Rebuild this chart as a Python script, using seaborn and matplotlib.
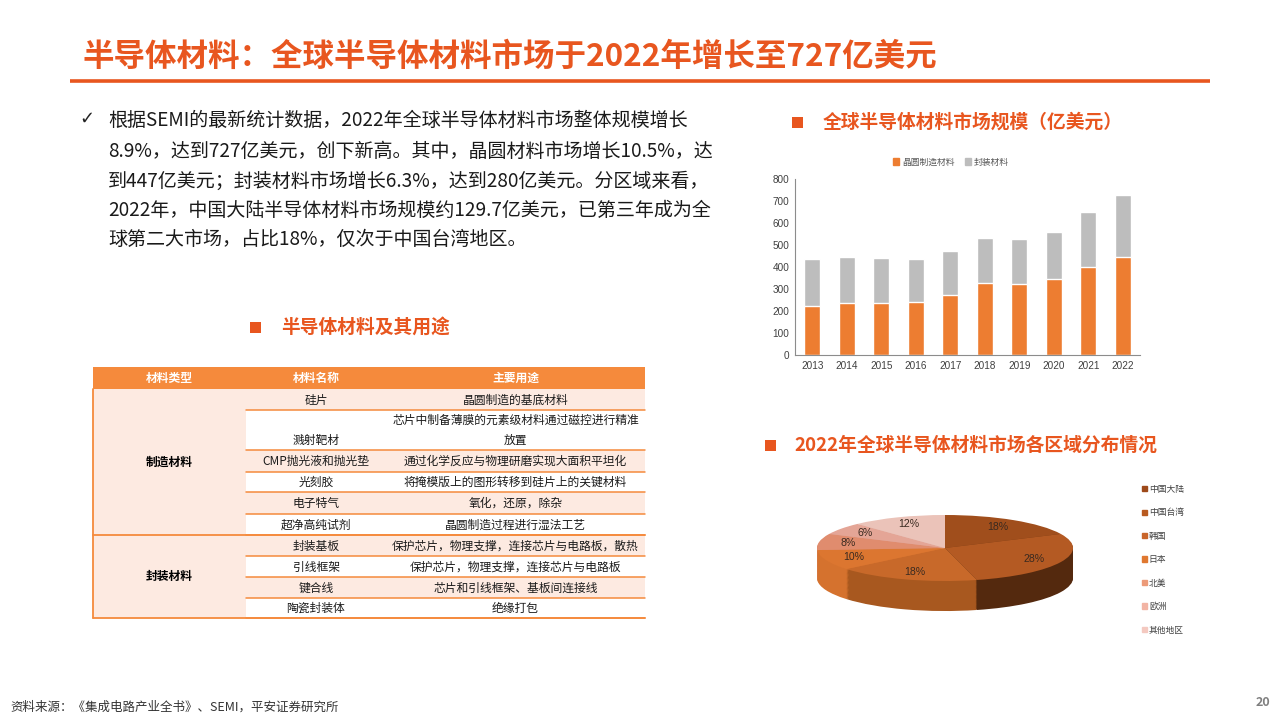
import matplotlib
matplotlib.use('Agg')
import matplotlib.pyplot as plt
import seaborn as sns
import numpy as np
import pandas as pd
from matplotlib.patches import Rectangle

sns.set_theme(style='white')
plt.rcParams['font.family'] = ['Noto Sans CJK SC', 'DejaVu Sans']
plt.rcParams['axes.unicode_minus'] = False

# ---------------- data ----------------
title = "半导体材料：全球半导体材料市场于2022年增长至727亿美元"
bullet_lines = [
    "根据SEMI的最新统计数据，2022年全球半导体材料市场整体规模增长",
    "8.9%，达到727亿美元，创下新高。其中，晶圆材料市场增长10.5%，达",
    "到447亿美元；封装材料市场增长6.3%，达到280亿美元。分区域来看，",
    "2022年，中国大陆半导体材料市场规模约129.7亿美元，已第三年成为全",
    "球第二大市场，占比18%，仅次于中国台湾地区。",
]
bar_heading = "全球半导体材料市场规模（亿美元）"
table_heading = "半导体材料及其用途"
pie_heading = "2022年全球半导体材料市场各区域分布情况"
footer = "资料来源：《集成电路产业全书》、SEMI，平安证券研究所"
page_no = "20"

years = ['2013', '2014', '2015', '2016', '2017', '2018', '2019', '2020', '2021', '2022']
wafer = [224, 236, 236, 241, 274, 326, 323, 345, 400, 447]
package = [212, 211, 203, 195, 200, 207, 204, 214, 250, 280]
series_names = ['晶圆制造材料', '封装材料']
y_ticks = [0, 100, 200, 300, 400, 500, 600, 700, 800]

regions = ['中国大陆', '中国台湾', '韩国', '日本', '北美', '欧洲', '其他地区']
shares = [18, 28, 18, 10, 8, 6, 12]

table_header = ['材料类型', '材料名称', '主要用途']
material_types = ['制造材料', '封装材料']
type_row_counts = [6, 4]
material_names = ['硅片', '溅射靶材', 'CMP抛光液和抛光垫', '光刻胶', '电子特气', '超净高纯试剂',
                  '封装基板', '引线框架', '键合线', '陶瓷封装体']
material_uses = ['晶圆制造的基底材料',
                 '芯片中制备薄膜的元素级材料通过磁控进行精准\n放置',
                 '通过化学反应与物理研磨实现大面积平坦化',
                 '将掩模版上的图形转移到硅片上的关键材料',
                 '氧化，还原，除杂',
                 '晶圆制造过程进行湿法工艺',
                 '保护芯片，物理支撑，连接芯片与电路板，散热',
                 '保护芯片，物理支撑，连接芯片与电路板',
                 '芯片和引线框架、基板间连接线',
                 '绝缘打包']

# ---------------- style ----------------
W, H = 1280, 720
ACCENT = '#E8561F'
TBL_OR = '#F58A3C'
PEACH = '#FDEAE1'
C_WAFER = '#ED7D31'
C_PACK = '#BDBDBD'
top_colors = ['#A04E1C', '#B45A23', '#C8692A', '#DC7630', '#E08C6E', '#E4A596', '#EBC3B9']
side_colors = ['#6E3511', '#54290E', '#A8581F', '#D5722E', '#D88560', '#DC9E8C', '#E2B8AC']
legend_colors = ['#9E4A1A', '#B85A20', '#C9652A', '#E07830', '#EC9A78', '#F2B4A4', '#F4C9C0']

fig = plt.figure(figsize=(12.8, 7.2), dpi=100, facecolor='white')

# overlay axes in pixel coordinates
ov = fig.add_axes([0, 0, 1, 1], zorder=0)
ov.set_xlim(0, W)
ov.set_ylim(H, 0)
ov.axis('off')

# title + rule
ov.text(82, 57, title, fontsize=22.7, fontweight='bold', color=ACCENT, ha='left', va='center')
ov.plot([70, 1210], [81, 81], color=ACCENT, lw=2.6, solid_capstyle='butt')

# bullet text
ov.text(87, 119, '✓', fontsize=13, color='#222222', ha='center', va='center', family='DejaVu Sans')
line_y = [120, 151, 181, 210, 239]
for ly, s in zip(line_y, bullet_lines):
    ov.text(108, ly, s, fontsize=13.7, color='#1A1A1A', ha='left', va='center')

# section headings
def heading(xsq, ysq, xtext, s):
    ov.add_patch(Rectangle((xsq, ysq - 5.5), 10.5, 11, color=ACCENT, lw=0))
    ov.text(xtext, ysq, s, fontsize=13.5, fontweight='bold', color=ACCENT, ha='left', va='center')

heading(792, 122, 823, bar_heading)
heading(250, 327, 281, table_heading)
heading(765, 445, 794, pie_heading)

# ---------------- table ----------------
tx0, tx1, tx2, tx3 = 93, 246, 386, 645
hdr_top, hdr_bot = 367, 389
row_edges = [389, 410, 450, 472, 492, 514, 535, 556, 577, 598, 618]
ov.add_patch(Rectangle((tx0, hdr_top), tx3 - tx0, hdr_bot - hdr_top, color=TBL_OR, lw=0))
for xc, s in zip([(tx0 + tx1) / 2, (tx1 + tx2) / 2, (tx2 + tx3) / 2], table_header):
    ov.text(xc, (hdr_top + hdr_bot) / 2 + 0.5, s, fontsize=8.5, fontweight='bold', color='white',
            ha='center', va='center')
for i in range(len(material_names)):
    y0, y1 = row_edges[i], row_edges[i + 1]
    fill = PEACH if i % 2 == 0 else 'white'
    ov.add_patch(Rectangle((tx1, y0), tx3 - tx1, y1 - y0, color=fill, lw=0))
    use_lines = material_uses[i].split('\n')
    if len(use_lines) == 1:
        yc = (y0 + y1) / 2 + 0.5
        ov.text((tx1 + tx2) / 2, yc, material_names[i], fontsize=8.5, color='#1A1A1A', ha='center', va='center')
        ov.text((tx2 + tx3) / 2, yc, use_lines[0], fontsize=8.5, color='#1A1A1A', ha='center', va='center')
    else:
        n = len(use_lines)
        step = (y1 - y0) / n
        for k, s in enumerate(use_lines):
            ov.text((tx2 + tx3) / 2, y0 + step * (k + 0.5) + 0.5, s, fontsize=8.5, color='#1A1A1A',
                    ha='center', va='center')
        ov.text((tx1 + tx2) / 2, y0 + step * (n - 0.5) + 0.5, material_names[i], fontsize=8.5,
                color='#1A1A1A', ha='center', va='center')
    ov.plot([tx1, tx3], [y1, y1], color=TBL_OR, lw=1.1)
start = 0
for t, cnt in zip(material_types, type_row_counts):
    y0, y1 = row_edges[start], row_edges[start + cnt]
    ov.add_patch(Rectangle((tx0, y0), tx1 - tx0, y1 - y0, color=PEACH, lw=0))
    ov.text((tx0 + tx1) / 2, (y0 + y1) / 2, t, fontsize=8.5, fontweight='bold', color='black',
            ha='center', va='center')
    ov.plot([tx0, tx3], [y1, y1], color=TBL_OR, lw=1.3)
    start += cnt
ov.plot([tx0, tx0], [hdr_bot, row_edges[-1]], color=TBL_OR, lw=1.3)

# footer
ov.text(10, 707, footer, fontsize=9, color='#333333', ha='left', va='center')
ov.text(1270, 703, page_no, fontsize=9, color='#7F7F7F', ha='right', va='center', fontweight='bold')

# ---------------- bar chart ----------------
bax = fig.add_axes([795 / W, 1 - 355 / H, 345 / W, 176 / H], zorder=2)
bax.patch.set_alpha(0)
df = pd.DataFrame({'year': years, 'wafer': wafer, 'package': package})
df['total'] = df['wafer'] + df['package']
sns.barplot(data=df, x='year', y='total', color=C_PACK, width=0.47, saturation=1, errorbar=None, ax=bax)
sns.barplot(data=df, x='year', y='wafer', color=C_WAFER, width=0.47, saturation=1, errorbar=None, ax=bax)
bax.set_xlim(-0.5, len(years) - 0.5)
bax.set_ylim(0, 800)
bax.set_yticks(y_ticks)
bax.set_xlabel('')
bax.set_ylabel('')
bax.grid(False)
for side in ['top', 'right']:
    bax.spines[side].set_visible(False)
for side in ['left', 'bottom']:
    bax.spines[side].set_color('#8C8C8C')
    bax.spines[side].set_linewidth(0.8)
bax.tick_params(axis='both', length=0, labelsize=7.2, colors='#404040', pad=4)
for lbl in bax.get_xticklabels() + bax.get_yticklabels():
    lbl.set_fontfamily('Liberation Sans')
handles = [Rectangle((0, 0), 1, 1, color=C_WAFER), Rectangle((0, 0), 1, 1, color=C_PACK)]
bax.legend(handles, series_names, loc='center', bbox_to_anchor=((951 - 795) / 345, (355 - 162) / 176),
           ncol=2, frameon=False, fontsize=6.3, handlelength=0.7, handleheight=0.7,
           handletextpad=0.3, columnspacing=1.2, labelcolor='#595959')

# ---------------- 3D-looking pie ----------------
cx, cy, rx, ry = 945, 548, 128, 33
depth = 0.91
x0p = cx - 1.1 * rx
ytop = cy - 1.1 * ry
ybot = cy + (1 + depth + 0.1) * ry
pax = fig.add_axes([x0p / W, 1 - ybot / H, 2.2 * rx / W, (ybot - ytop) / H], zorder=2)
n_layers = 36
for k in range(n_layers, 0, -1):
    off = depth * k / n_layers
    pax.pie(shares, colors=side_colors, startangle=90, counterclock=False, center=(0, -off),
            radius=1, wedgeprops=dict(linewidth=0))
wedges, texts, autotexts = pax.pie(shares, colors=top_colors, startangle=90, counterclock=False,
                                   center=(0, 0), radius=1, autopct=lambda p: f'{p:.0f}%',
                                   pctdistance=0.77, wedgeprops=dict(linewidth=0),
                                   textprops=dict(fontsize=7.6, color='#3A2A20', family='Liberation Sans'))
pax.set_aspect('auto')
pax.set_xlim(-1.1, 1.1)
pax.set_ylim(-1 - depth - 0.1, 1.1)
pax.axis('off')

leg_handles = [Rectangle((0, 0), 1, 1, color=c) for c in legend_colors]
fig.legend(leg_handles, regions, loc='upper left', bbox_to_anchor=(1134 / W, 1 - 477 / H),
           frameon=False, fontsize=6.3, handlelength=0.55, handleheight=0.55, handletextpad=0.25,
           labelspacing=1.65, labelcolor='#404040')

fig.savefig('out.png', dpi=100, facecolor='white')
